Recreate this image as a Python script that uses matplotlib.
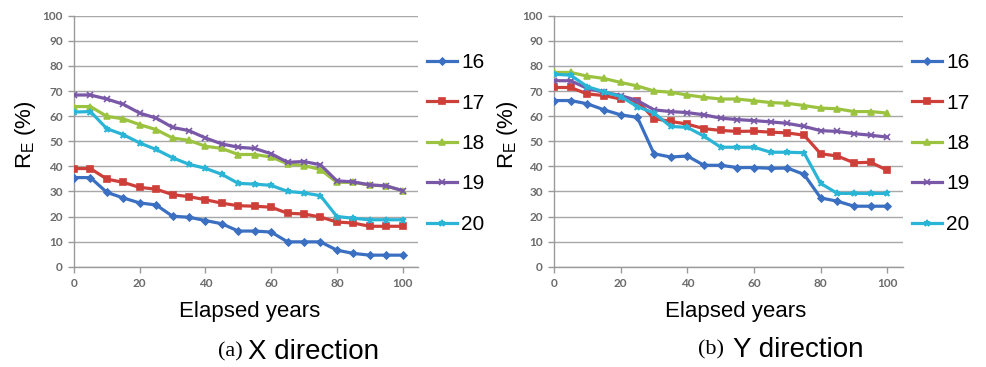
import matplotlib
matplotlib.use("Agg")
import matplotlib.pyplot as plt

plt.rcParams['font.family'] = ['Liberation Sans', 'DejaVu Sans']
plt.rcParams['mathtext.fontset'] = 'custom'
plt.rcParams['mathtext.rm'] = 'Liberation Sans'

years = [0, 5, 10, 15, 20, 25, 30, 35, 40, 45, 50, 55, 60, 65, 70, 75, 80, 85, 90, 95, 100]
series_names = ['16', '17', '18', '19', '20']

x_16 = [35.5, 35.5, 29.6, 27.4, 25.4, 24.6, 20.1, 19.7, 18.4, 17.1, 14.2, 14.2, 13.8, 9.9, 9.9, 9.9, 6.6, 5.3, 4.6, 4.6, 4.6]
x_17 = [39.1, 39.1, 34.9, 33.6, 31.6, 30.9, 28.7, 27.9, 26.7, 25.3, 24.3, 24.1, 23.7, 21.3, 21.0, 19.8, 17.8, 17.4, 16.1, 16.1, 16.1]
x_18 = [63.8, 63.8, 59.9, 58.9, 56.6, 54.6, 51.3, 50.3, 48.0, 47.1, 44.7, 44.7, 43.7, 41.0, 40.3, 38.7, 33.6, 33.6, 32.5, 32.2, 30.3]
x_19 = [68.4, 68.4, 66.8, 64.7, 61.2, 59.2, 55.5, 54.2, 51.3, 48.9, 47.6, 47.1, 45.0, 41.6, 41.9, 40.6, 34.2, 33.8, 32.6, 32.2, 30.3]
x_20 = [61.6, 61.8, 55.0, 52.6, 49.3, 46.7, 43.4, 40.8, 39.2, 36.8, 33.2, 32.9, 32.4, 30.0, 29.4, 28.3, 20.0, 19.3, 18.7, 18.7, 18.7]

y_16 = [66.2, 66.2, 64.9, 62.5, 60.5, 59.5, 45.0, 43.7, 44.1, 40.4, 40.4, 39.5, 39.5, 39.2, 39.3, 36.8, 27.4, 26.1, 24.1, 24.1, 24.1]
y_17 = [71.4, 71.4, 68.8, 68.2, 66.8, 66.1, 59.0, 57.9, 56.8, 55.0, 54.3, 53.9, 54.0, 53.6, 53.3, 52.4, 45.0, 44.1, 41.4, 41.6, 38.4]
y_18 = [77.4, 77.4, 75.9, 75.0, 73.4, 72.0, 70.0, 69.5, 68.4, 67.5, 66.8, 66.8, 66.1, 65.4, 65.1, 64.2, 63.2, 62.9, 61.8, 61.8, 61.2]
y_19 = [74.1, 74.1, 71.0, 69.5, 68.2, 66.2, 62.5, 61.8, 61.4, 60.5, 59.2, 58.6, 58.2, 57.7, 57.1, 55.9, 54.2, 53.9, 53.0, 52.4, 51.6]
y_20 = [76.7, 76.3, 71.7, 69.7, 67.8, 63.8, 61.2, 55.9, 55.5, 52.0, 47.6, 47.6, 47.6, 45.6, 45.6, 45.4, 33.2, 29.2, 29.2, 29.2, 29.2]

y_ticks = [0, 10, 20, 30, 40, 50, 60, 70, 80, 90, 100]
x_ticks = [0, 20, 40, 60, 80, 100]

colors = ['#3a6fc2', '#cf3f3a', '#9cc33f', '#7a58a8', '#2ab4d6']
markers = ['D', 's', '^', 'x', '*']
msizes = [3.5, 4, 4, 4, 4.5]

W, H = 987, 367
fig = plt.figure(figsize=(W / 100, H / 100), dpi=100)

def px(x0, y0, x1, y1):
    return [x0 / W, 1 - y1 / H, (x1 - x0) / W, (y1 - y0) / H]

ax1 = fig.add_axes(px(74, 15.7, 418, 266.7))
ax2 = fig.add_axes(px(554, 15.7, 903, 266.7))

for ax, data in ((ax1, [x_16, x_17, x_18, x_19, x_20]), (ax2, [y_16, y_17, y_18, y_19, y_20])):
    for vals, name, c, m, ms in zip(data, series_names, colors, markers, msizes):
        ax.plot(years, vals, color=c, lw=2.3, marker=m, ms=ms, mew=1.2,
                mfc=c, mec=c, label=name, zorder=3)
    ax.set_xlim(0, 104.7)
    ax.set_ylim(0, 100)
    ax.set_xticks(x_ticks)
    ax.set_yticks(y_ticks)
    ax.grid(axis='y', color='#a8a8a8', lw=1.0)
    ax.set_axisbelow(True)
    for s in ('top', 'right'):
        ax.spines[s].set_visible(False)
    for s in ('left', 'bottom'):
        ax.spines[s].set_color('#9a9a9a')
        ax.spines[s].set_linewidth(1.0)
    ax.tick_params(axis='both', colors='#9a9a9a', length=4, width=1,
                   labelcolor='#6b6b6b', labelsize=8.5, pad=4)
    for lab in ax.get_xticklabels() + ax.get_yticklabels():
        lab.set_fontfamily('Lato')
        lab.set_fontweight('bold')
    leg = ax.legend(loc='center left', bbox_to_anchor=(1.025, 0.491), frameon=False,
                    fontsize=15, handlelength=1.45, handletextpad=0.2,
                    labelspacing=1.03, borderaxespad=0.0, borderpad=0.0)

# y labels
fig.text(26 / W, 1 - 135 / H, r'R$_\mathregular{E}$ (%)', rotation=90,
         ha='center', va='center', fontsize=16)
fig.text(507 / W, 1 - 135 / H, r'R$_\mathregular{E}$ (%)', rotation=90,
         ha='center', va='center', fontsize=16)

# x labels
fig.text(250 / W, 1 - 311 / H, 'Elapsed years', ha='center', va='center', fontsize=16)
fig.text(736 / W, 1 - 311 / H, 'Elapsed years', ha='center', va='center', fontsize=16)

# captions
fig.text(243 / W, 1 - 352 / H, '(a)', ha='right', va='center', fontsize=16,
         family='Liberation Serif')
fig.text(248 / W, 1 - 352 / H, 'X direction', ha='left', va='center', fontsize=20)
fig.text(724 / W, 1 - 350 / H, '(b)', ha='right', va='center', fontsize=16,
         family='Liberation Serif')
fig.text(733 / W, 1 - 350 / H, 'Y direction', ha='left', va='center', fontsize=20)

fig.savefig('out.png', dpi=100)
